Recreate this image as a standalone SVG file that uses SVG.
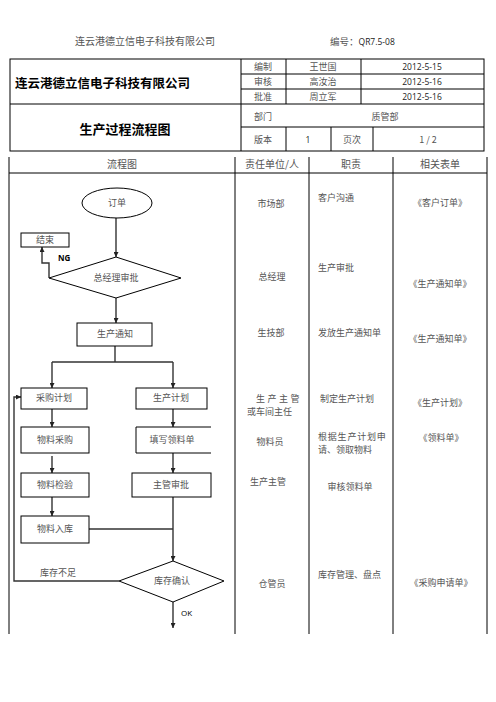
<svg xmlns="http://www.w3.org/2000/svg" width="496" height="702" viewBox="0 0 496 702">
<defs>
<marker id="ah" viewBox="0 0 10 10" refX="10" refY="5" markerWidth="5" markerHeight="5" orient="auto" markerUnits="userSpaceOnUse">
<path d="M0,0 L10,5 L0,10 Z" fill="#222"/>
</marker>
</defs>
<style>
text{font-family:"Noto Sans CJK SC","Noto Sans",sans-serif;fill:#555;font-size:9px}
.c{text-anchor:middle}
.num{font-family:"Open Sans","Liberation Sans",sans-serif;font-size:8.5px;fill:#222}
.b{font-weight:bold;fill:#000}
.tl{stroke:#000;stroke-width:1;fill:none}
.sh{fill:#fff;stroke:#000;stroke-width:1}
.cn{stroke:#333;stroke-width:1.4;fill:none}
.ar{marker-end:url(#ah)}
</style>
<rect width="496" height="702" fill="#fff"/>

<g id="page-header">
<text x="145" y="45" class="c" style="font-size:10px">连云港德立信电子科技有限公司</text>
<text x="330" y="45" style="font-size:9.5px">编号：<tspan class="num" style="font-size:8.5px">QR7.5-08</tspan></text>
</g>

<g id="info-table">
<rect x="10" y="59" width="474" height="92" class="tl"/>
<line x1="241" y1="59" x2="241" y2="151" class="tl"/>
<line x1="286" y1="59" x2="286" y2="104" class="tl"/>
<line x1="286" y1="127" x2="286" y2="151" class="tl"/>
<line x1="361" y1="59" x2="361" y2="104" class="tl"/>
<line x1="331" y1="127" x2="331" y2="151" class="tl"/>
<line x1="373" y1="127" x2="373" y2="151" class="tl"/>
<line x1="241" y1="74" x2="484" y2="74" class="tl"/>
<line x1="241" y1="89" x2="484" y2="89" class="tl"/>
<line x1="10" y1="104" x2="484" y2="104" class="tl"/>
<line x1="241" y1="127" x2="484" y2="127" class="tl"/>
<text x="15" y="88" class="b" style="font-size:12.5px">连云港德立信电子科技有限公司</text>
<text x="125" y="134" class="c b" style="font-size:13px">生产过程流程图</text>
<text x="263" y="70" class="c">编制</text>
<text x="323" y="70" class="c">王世国</text>
<text x="422" y="70" class="c num">2012-5-15</text>
<text x="263" y="85" class="c">审核</text>
<text x="323" y="85" class="c">高汝治</text>
<text x="422" y="85" class="c num">2012-5-16</text>
<text x="263" y="100" class="c">批准</text>
<text x="323" y="100" class="c">周立军</text>
<text x="422" y="100" class="c num">2012-5-16</text>
<text x="263" y="120" class="c">部门</text>
<text x="385" y="120" class="c">质管部</text>
<text x="263" y="143" class="c">版本</text>
<text x="308" y="143" class="c num">1</text>
<text x="352" y="143" class="c">页次</text>
<text x="428" y="143" class="c">1 / 2</text>
</g>

<g id="flow-table">
<line x1="9" y1="157" x2="9" y2="634" class="tl"/>
<line x1="235" y1="157" x2="235" y2="634" class="tl"/>
<line x1="309" y1="157" x2="309" y2="634" class="tl"/>
<line x1="393" y1="157" x2="393" y2="634" class="tl"/>
<line x1="487" y1="157" x2="487" y2="634" class="tl"/>
<line x1="9" y1="173" x2="487" y2="173" class="tl"/>
<text x="122" y="168" class="c" style="font-size:10px">流程图</text>
<text x="272" y="168" class="c" style="font-size:10px">责任单位/人</text>
<text x="351" y="168" class="c" style="font-size:10px">职责</text>
<text x="440" y="168" class="c" style="font-size:10px">相关表单</text>
</g>

<g id="col-responsible">
<text x="271" y="207" class="c">市场部</text>
<text x="272" y="280" class="c">总经理</text>
<text x="271" y="336" class="c">生技部</text>
<text x="256" y="402" letter-spacing="2.5">生产主管</text>
<text x="247" y="415">或车间主任</text>
<text x="270" y="445" class="c">物料员</text>
<text x="268" y="485" class="c">生产主管</text>
<text x="272" y="587" class="c">仓管员</text>
</g>

<g id="col-duty">
<text x="318" y="201">客户沟通</text>
<text x="318" y="271">生产审批</text>
<text x="318" y="336">发放生产通知单</text>
<text x="347" y="402" class="c">制定生产计划</text>
<text x="318" y="440" letter-spacing="0.8">根据生产计划申</text>
<text x="318" y="453">请、领取物料</text>
<text x="350" y="490" class="c">审核领料单</text>
<text x="318" y="578">库存管理、盘点</text>
</g>

<g id="col-forms">
<text x="440" y="206" class="c">《客户订单》</text>
<text x="440" y="287" class="c">《生产通知单》</text>
<text x="440" y="342" class="c">《生产通知单》</text>
<text x="440" y="406" class="c">《生产计划》</text>
<text x="441" y="441" class="c">《领料单》</text>
<text x="441" y="586" class="c">《采购申请单》</text>
</g>

<g id="connectors">
<path d="M116,218 V257" class="cn ar"/>
<path d="M49,278 V263 H42 V247" class="cn ar"/>
<path d="M116,298 V323" class="cn ar"/>
<path d="M115,346 V362" class="cn"/>
<path d="M52,362 H173" class="cn"/>
<path d="M52,362 V388" class="cn ar"/>
<path d="M173,362 V388" class="cn ar"/>
<path d="M52,409 V427" class="cn ar"/>
<path d="M173,409 V427" class="cn ar"/>
<path d="M52,456 V473" class="cn ar"/>
<path d="M173,453 V473" class="cn ar"/>
<path d="M52,497 V516" class="cn ar"/>
<path d="M89,529 H173" class="cn"/>
<path d="M173,497 V561" class="cn ar"/>
<path d="M119,581 H14 V397 H21" class="cn ar"/>
<path d="M173,602 V628" class="cn ar"/>
<text x="58" y="261" class="num" style="font-size:8px;font-weight:bold;fill:#000">NG</text>
<text x="58" y="576" class="c">库存不足</text>
<text x="181" y="616" class="num" style="font-size:8px;fill:#000">OK</text>
</g>

<g id="n-order">
<ellipse cx="117" cy="203" rx="35" ry="15" class="sh"/>
<text x="117" y="206" class="c">订单</text>
</g>
<g id="n-end">
<rect x="21" y="233" width="48" height="14" class="sh"/>
<text x="45" y="243" class="c">结束</text>
</g>
<g id="n-gm-approve">
<polygon points="116,257 181,278 116,298 49,278" class="sh"/>
<text x="116" y="281" class="c">总经理审批</text>
</g>
<g id="n-notice">
<rect x="77" y="323" width="75" height="23" class="sh"/>
<text x="115" y="337" class="c">生产通知</text>
</g>
<g id="n-purchase-plan">
<rect x="21" y="388" width="66" height="21" class="sh"/>
<text x="54" y="401" class="c">采购计划</text>
</g>
<g id="n-prod-plan">
<rect x="136" y="388" width="71" height="21" class="sh"/>
<text x="171" y="401" class="c">生产计划</text>
</g>
<g id="n-purchase">
<rect x="21" y="427" width="68" height="26" class="sh"/>
<text x="55" y="443" class="c">物料采购</text>
</g>
<g id="n-requisition">
<rect x="136" y="427" width="75" height="26" fill="#fff"/>
<path d="M211,427 H136 V453 H211" class="tl"/>
<text x="172" y="443" class="c">填写领料单</text>
</g>
<g id="n-inspect">
<rect x="21" y="473" width="68" height="24" class="sh"/>
<text x="55" y="488" class="c">物料检验</text>
</g>
<g id="n-supervisor">
<rect x="132" y="473" width="79" height="24" class="sh"/>
<text x="171" y="488" class="c">主管审批</text>
</g>
<g id="n-warehouse-in">
<rect x="21" y="516" width="68" height="27" class="sh"/>
<text x="55" y="532" class="c">物料入库</text>
</g>
<g id="n-stock-check">
<polygon points="173,561 224,581 173,602 119,581" class="sh"/>
<text x="172" y="584" class="c">库存确认</text>
</g>
</svg>
